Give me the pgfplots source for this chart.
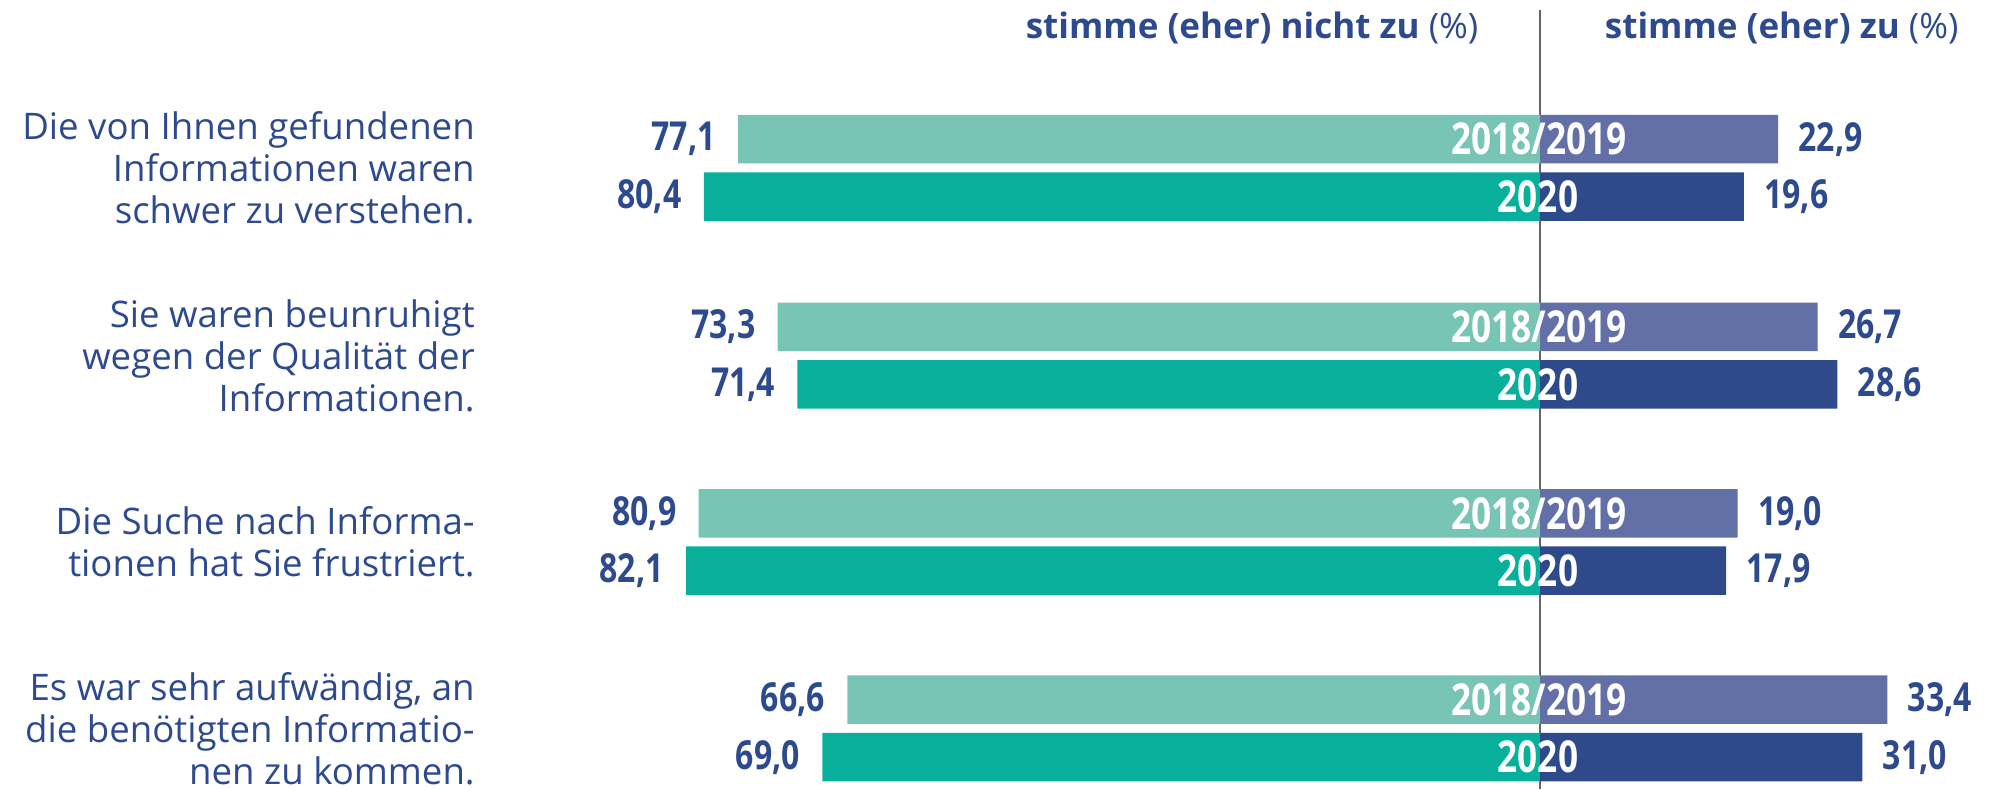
\documentclass[border=0pt]{standalone}
\usepackage{pgfplots}
\pgfplotsset{compat=1.18}
\usepackage{pgfplotstable}
\usepackage{fontspec}
\setmainfont{Open Sans}
\newfontfamily\numfont[FakeStretch=0.8]{Open Sans}
\definecolor{tealL}{HTML}{78C4B5}
\definecolor{tealD}{HTML}{08B09C}
\definecolor{blueL}{HTML}{6370A8}
\definecolor{blueD}{HTML}{2E4A8A}
\definecolor{txt}{HTML}{2E4A8E}

% y = vertical position (px from top), v = value in percent
\pgfplotstableread{
y v
139.2 77.1
326.9 73.3
513.3 80.9
699.7 66.6
}\leftA
\pgfplotstableread{
y v
196.6 80.4
384.3 71.4
570.7 82.1
757.1 69.0
}\leftB
\pgfplotstableread{
y v
139.2 22.9
326.9 26.7
513.3 19.0
699.7 33.4
}\rightA
\pgfplotstableread{
y v
196.6 19.6
384.3 28.6
570.7 17.9
757.1 31.0
}\rightB

\newcommand{\numfmt}{\pgfmathprintnumber[fixed,zerofill,precision=1,use comma,assume math mode=true]{\pgfplotspointmeta}}

\begin{document}
\begin{tikzpicture}
\begin{axis}[
  width=1001pt, height=394.5pt, scale only axis,
  xmin=-148.08, xmax=44.42,
  ymin=0, ymax=789, y dir=reverse,
  hide axis, clip=false,
  every node near coord/.append style={font=\numfont\bfseries\fontsize{20}{24}\selectfont, text=txt, inner sep=0pt},
]
\path (rel axis cs:0,0) rectangle (rel axis cs:1,1);
\draw[color=black!60, line width=0.7pt] (axis cs:0,10) -- (axis cs:0,789);

\addplot[xbar, bar shift=0pt, bar width=48.5, fill=tealL, draw=none,
  point meta=explicit, nodes near coords={\numfmt},
  every node near coord/.append style={anchor=east, xshift=-11pt}]
  table[x expr=-\thisrow{v}, y=y, meta=v] {\leftA};
\addplot[xbar, bar shift=0pt, bar width=48.5, fill=tealD, draw=none,
  point meta=explicit, nodes near coords={\numfmt},
  every node near coord/.append style={anchor=east, xshift=-11pt}]
  table[x expr=-\thisrow{v}, y=y, meta=v] {\leftB};
\addplot[xbar, bar shift=0pt, bar width=48.5, fill=blueL, draw=none,
  point meta=explicit, nodes near coords={\numfmt},
  every node near coord/.append style={anchor=west, xshift=10pt}]
  table[x=v, y=y, meta=v] {\rightA};
\addplot[xbar, bar shift=0pt, bar width=48.5, fill=blueD, draw=none,
  point meta=explicit, nodes near coords={\numfmt},
  every node near coord/.append style={anchor=west, xshift=10pt}]
  table[x=v, y=y, meta=v] {\rightB};

% year labels inside the bars
\begin{scope}[every node/.style={font=\numfont\bfseries\fontsize{22}{24}\selectfont, text=white, inner sep=0pt}]
\node at (axis cs:-0.1,139.2) {2018/2019};
\node at (axis cs:-0.2,196.6) {2020};
\node at (axis cs:-0.1,326.9) {2018/2019};
\node at (axis cs:-0.2,384.3) {2020};
\node at (axis cs:-0.1,513.3) {2018/2019};
\node at (axis cs:-0.2,570.7) {2020};
\node at (axis cs:-0.1,699.7) {2018/2019};
\node at (axis cs:-0.2,757.1) {2020};
\end{scope}

% headers
\node[anchor=east, inner sep=0pt, text=txt, font=\fontsize{17.5}{20}\selectfont] at (axis cs:-5.9,28) {\bfseries stimme (eher) nicht zu {\mdseries(\%)}};
\node[anchor=west, inner sep=0pt, text=txt, font=\fontsize{17.5}{20}\selectfont] at (axis cs:6.2,28) {\bfseries stimme (eher) zu {\mdseries(\%)}};

% category labels
\begin{scope}[every node/.style={anchor=east, align=right, inner sep=0pt, text=txt, font=\fontsize{18.3}{21}\selectfont}]
\node at (axis cs:-102.4,167.9) {Die von Ihnen gefundenen\\Informationen waren\\schwer zu verstehen.};
\node at (axis cs:-102.4,355.6) {Sie waren beunruhigt\\wegen der Qualität der\\Informationen.};
\node at (axis cs:-102.4,542.0) {Die Suche nach Informa-\\tionen hat Sie frustriert.};
\node at (axis cs:-102.4,728.4) {Es war sehr aufwändig, an\\die benötigten Informatio-\\nen zu kommen.};
\end{scope}
\end{axis}
\end{tikzpicture}
\end{document}
